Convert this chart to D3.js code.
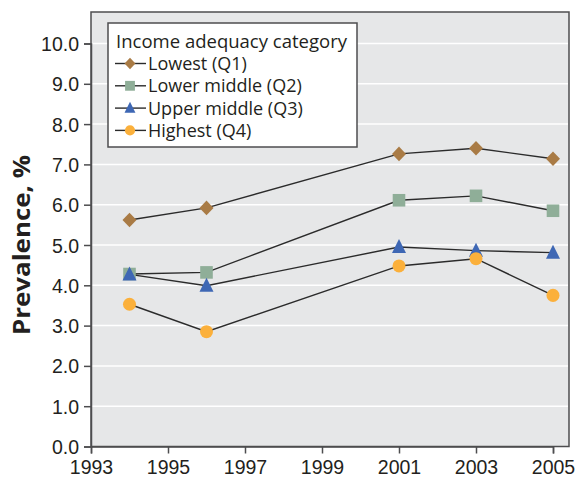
<!DOCTYPE html>
<html>
<head>
<meta charset="utf-8">
<script src="https://cdn.jsdelivr.net/npm/d3@7"></script>
<style>
    body { margin: 0; background: #fff; }
    svg { display: block; font-family: "Open Sans", "Noto Sans", sans-serif; }
    .tick text { font-size: 19.5px; fill: #231f20; }
</style>
</head>
<body>
<svg id="chart" width="581" height="483"></svg>
<script>
const years = [1994, 1996, 2001, 2003, 2005]
const seriesNames = ['Lowest (Q1)', 'Lower middle (Q2)', 'Upper middle (Q3)', 'Highest (Q4)']
const q1 = [5.62, 5.92, 7.26, 7.40, 7.14]
const q2 = [4.28, 4.32, 6.11, 6.22, 5.85]
const q3 = [4.27, 3.99, 4.95, 4.86, 4.81]
const q4 = [3.53, 2.85, 4.48, 4.66, 3.75]
const xTicks = [1993, 1995, 1997, 1999, 2001, 2003, 2005]
const yTicks = [0, 1, 2, 3, 4, 5, 6, 7, 8, 9, 10]

const colors = ['#a97b45', '#8fae98', '#3e67b4', '#fbb03b']

// marker shapes (Excel-style: diamond, square, triangle, circle), k = scale
const markers = [
    k => `M0,${-7.3 * k}L${7 * k},0L0,${7.3 * k}L${-7 * k},0Z`,
    k => `M${-6.3 * k},${-6.3 * k}h${12.6 * k}v${12.6 * k}h${-12.6 * k}Z`,
    k => `M0,${-8 * k}L${7 * k},${6 * k}L${-7 * k},${6 * k}Z`,
    k => d3.symbol().type(d3.symbolCircle).size(133 * k * k)()
]

const svg = d3.select('#chart')
const plotLeft = 91, plotRight = 569, plotTop = 12, plotBottom = 446.5

const x = d3.scaleLinear().domain([1993, 2005]).range([plotLeft, 553])
const y = d3.scaleLinear().domain([0, 10]).range([plotBottom, 43.5])

// plot background
svg.append('rect')
    .attr('x', plotLeft).attr('y', plotTop)
    .attr('width', plotRight - plotLeft).attr('height', plotBottom - plotTop)
    .attr('fill', '#e6e7e8')
    .attr('stroke', '#4d4d4f').attr('stroke-width', 1.5)

// gridlines
svg.append('g')
    .selectAll('line')
    .data(yTicks.filter(d => d > 0))
    .join('line')
    .attr('x1', plotLeft + 1).attr('x2', plotRight - 1)
    .attr('y1', d => y(d)).attr('y2', d => y(d))
    .attr('stroke', '#fff').attr('stroke-width', 1.5)

// axes
const xAxis = svg.append('g')
    .attr('transform', `translate(0,${plotBottom})`)
    .call(d3.axisBottom(x).tickValues(xTicks).tickFormat(d3.format('d')).tickSize(7).tickPadding(3))
const yAxis = svg.append('g')
    .attr('transform', `translate(${plotLeft},0)`)
    .call(d3.axisLeft(y).tickValues(yTicks).tickFormat(d3.format('.1f')).tickSize(7).tickPadding(5))

;[xAxis, yAxis].forEach(a => {
    a.select('.domain').attr('stroke', '#4d4d4f').attr('stroke-width', 1.5)
    a.selectAll('.tick line').attr('stroke', '#4d4d4f').attr('stroke-width', 1.5)
})
xAxis.selectAll('.tick text').attr('dy', '0.9em')
yAxis.selectAll('.tick text').attr('dy', '0.36em')

// y label
svg.append('text')
    .attr('transform', `translate(30,245) rotate(-90)`)
    .attr('text-anchor', 'middle')
    .attr('font-size', 23)
    .attr('font-weight', 'bold')
    .attr('fill', '#231f20')
    .attr('textLength', 180)
    .attr('lengthAdjust', 'spacingAndGlyphs')
    .text('Prevalence, %')

// series
const allSeries = [q1, q2, q3, q4]
const line = d3.line().x((d, i) => x(years[i])).y(d => y(d))

allSeries.forEach(vals => {
    svg.append('path')
        .attr('d', line(vals))
        .attr('fill', 'none')
        .attr('stroke', '#2b2b2b')
        .attr('stroke-width', 1.4)
})
allSeries.forEach((vals, s) => {
    svg.append('g')
        .selectAll('path')
        .data(vals)
        .join('path')
        .attr('transform', (d, i) => `translate(${x(years[i])},${y(d)})`)
        .attr('d', markers[s](1))
        .attr('fill', colors[s])
})

// legend
const lg = svg.append('g').attr('transform', 'translate(108,23)')
lg.append('rect')
    .attr('width', 249).attr('height', 124)
    .attr('fill', '#fff')
    .attr('stroke', '#4d4d4f').attr('stroke-width', 1.5)
lg.append('text')
    .attr('x', 8).attr('y', 25)
    .attr('font-size', 18)
    .attr('fill', '#231f20')
    .attr('textLength', 231)
    .attr('lengthAdjust', 'spacingAndGlyphs')
    .text('Income adequacy category')

seriesNames.forEach((name, s) => {
    const cy = 40.5 + s * 22.3
    lg.append('line')
        .attr('x1', 7).attr('x2', 38)
        .attr('y1', cy).attr('y2', cy)
        .attr('stroke', '#2b2b2b').attr('stroke-width', 1.4)
    lg.append('path')
        .attr('transform', `translate(22,${cy})`)
        .attr('d', markers[s](0.78))
        .attr('fill', colors[s])
    lg.append('text')
        .attr('x', 40).attr('y', cy + 6.5)
        .attr('font-size', 18)
        .attr('fill', '#231f20')
        .text(name)
})
</script>
</body>
</html>
